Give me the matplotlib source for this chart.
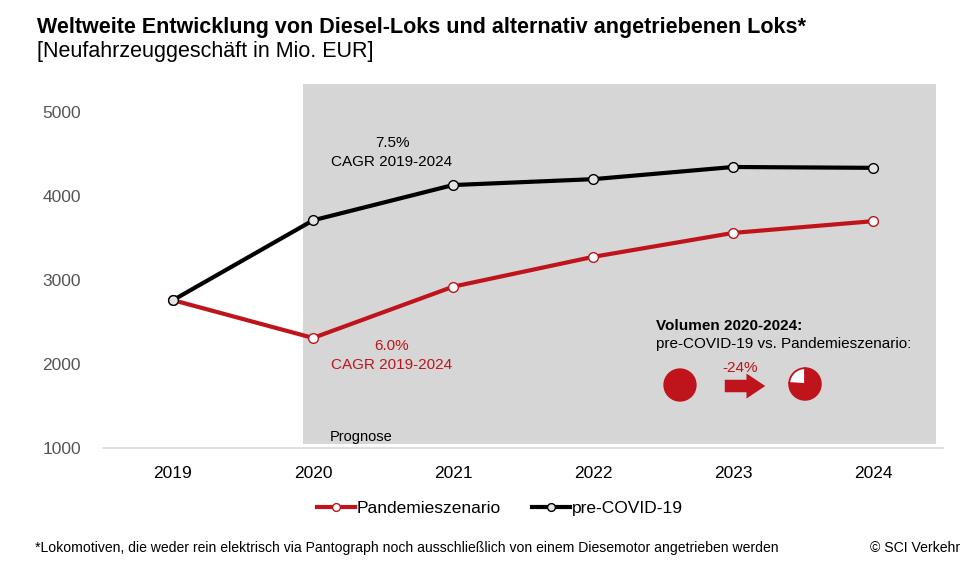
import matplotlib.pyplot as plt
from matplotlib.patches import Rectangle, FancyArrowPatch

plt.rcParams['font.family'] = ['Liberation Sans', 'DejaVu Sans']

years = [2019, 2020, 2021, 2022, 2023, 2024]
pandemie = [2760, 2310, 2920, 3275, 3560, 3700]
pre_covid = [2760, 3710, 4130, 4200, 4345, 4335]
yticks = [1000, 2000, 3000, 4000, 5000]
volumen_change = -24  # percent

red = '#c0141c'
box_grey = '#d6d6d6'
H = 568

fig = plt.figure(figsize=(9.8, 5.68), dpi=100)
ax = fig.add_axes([103 / 980, (H - 448) / H, 840 / 980, 364 / H])
ax.set_xlim(2018.5, 2024.5)
ax.set_ylim(1000, 5333)

# prognosis area
ax.add_patch(Rectangle((2019.93, 1048), 4.52, 5333 - 1048, color=box_grey, zorder=0, lw=0))

ax.plot(years, pandemie, color=red, lw=3, marker='o', ms=7, mfc='white', mec=red, mew=1,
        label='Pandemieszenario', zorder=3)
ax.plot(years, pre_covid, color='black', lw=3, marker='o', ms=7, mfc='#e4e4e4', mec='black', mew=1,
        label='pre-COVID-19', zorder=4)

for s in ['top', 'right', 'left']:
    ax.spines[s].set_visible(False)
ax.spines['bottom'].set_color('#d9d9d9')
ax.spines['bottom'].set_linewidth(1.2)
ax.set_xticks(years)
ax.set_yticks(yticks)
ax.tick_params(axis='both', length=0, labelsize=12.5)
ax.tick_params(axis='x', pad=13, colors='black')
ax.tick_params(axis='y', pad=16, labelcolor='#555555')

leg = ax.legend(loc='center', ncol=2, frameon=False, fontsize=12.5, handlelength=2.2,
                handletextpad=0.1, columnspacing=1.8, markerscale=0.8)
leg.set_bbox_to_anchor((500 / 980, (H - 508) / H), transform=fig.transFigure)

# annotations
fig.text(392 / 980, (H - 143) / H, '7.5%', ha='center', va='center', fontsize=11)
fig.text(392 / 980, (H - 162) / H, 'CAGR 2019-2024', ha='center', va='center', fontsize=11)
fig.text(392 / 980, (H - 346) / H, '6.0%', ha='center', va='center', fontsize=11, color=red)
fig.text(392 / 980, (H - 365) / H, 'CAGR 2019-2024', ha='center', va='center', fontsize=11, color=red)
fig.text(330 / 980, (H - 437) / H, 'Prognose', ha='left', va='center', fontsize=10.5)

fig.text(656 / 980, (H - 326) / H, 'Volumen 2020-2024:', ha='left', va='center', fontsize=11,
         fontweight='bold')
fig.text(656 / 980, (H - 344) / H, 'pre-COVID-19 vs. Pandemieszenario:', ha='left', va='center',
         fontsize=11)
fig.text(740 / 980, (H - 368) / H, f'{volumen_change}%', ha='center', va='center', fontsize=11,
         color=red)

# full circle
r = 17
cax = fig.add_axes([(680 - r) / 980, (H - 385 - r) / H, 2 * r / 980, 2 * r / H])
cax.pie([100], colors=[red], startangle=90, wedgeprops=dict(lw=0))
cax.set_xlim(-1.02, 1.02)
cax.set_ylim(-1.02, 1.02)
cax.set_aspect('equal')
# reduced pie
pax = fig.add_axes([(805 - r) / 980, (H - 384 - r) / H, 2 * r / 980, 2 * r / H])
pax.pie([100 + volumen_change, -volumen_change], colors=[red, 'white'], startangle=90,
        counterclock=False, radius=0.95, wedgeprops=dict(lw=1.3, edgecolor=red))
pax.set_xlim(-1.02, 1.02)
pax.set_ylim(-1.02, 1.02)
pax.set_aspect('equal')

# arrow
fig.patches.append(FancyArrowPatch(
    (722 / 980, (H - 386) / H), (768 / 980, (H - 386) / H), transform=fig.transFigure,
    arrowstyle='simple,head_length=0.75,head_width=1.0,tail_width=0.5', mutation_scale=18,
    color=red, lw=0))

# titles
fig.text(37 / 980, (H - 27) / H, 'Weltweite Entwicklung von Diesel-Loks und alternativ angetriebenen Loks*',
         ha='left', va='center', fontsize=15.5, fontweight='bold')
fig.text(37 / 980, (H - 52) / H, '[Neufahrzeuggeschäft in Mio. EUR]', ha='left', va='center',
         fontsize=15.5)

fig.text(35 / 980, (H - 548) / H,
         '*Lokomotiven, die weder rein elektrisch via Pantograph noch ausschließlich von einem Diesemotor angetrieben werden',
         ha='left', va='center', fontsize=10.1)
fig.text(960 / 980, (H - 548) / H, '© SCI Verkehr', ha='right', va='center', fontsize=10.1)

fig.savefig('out.png', dpi=100)
